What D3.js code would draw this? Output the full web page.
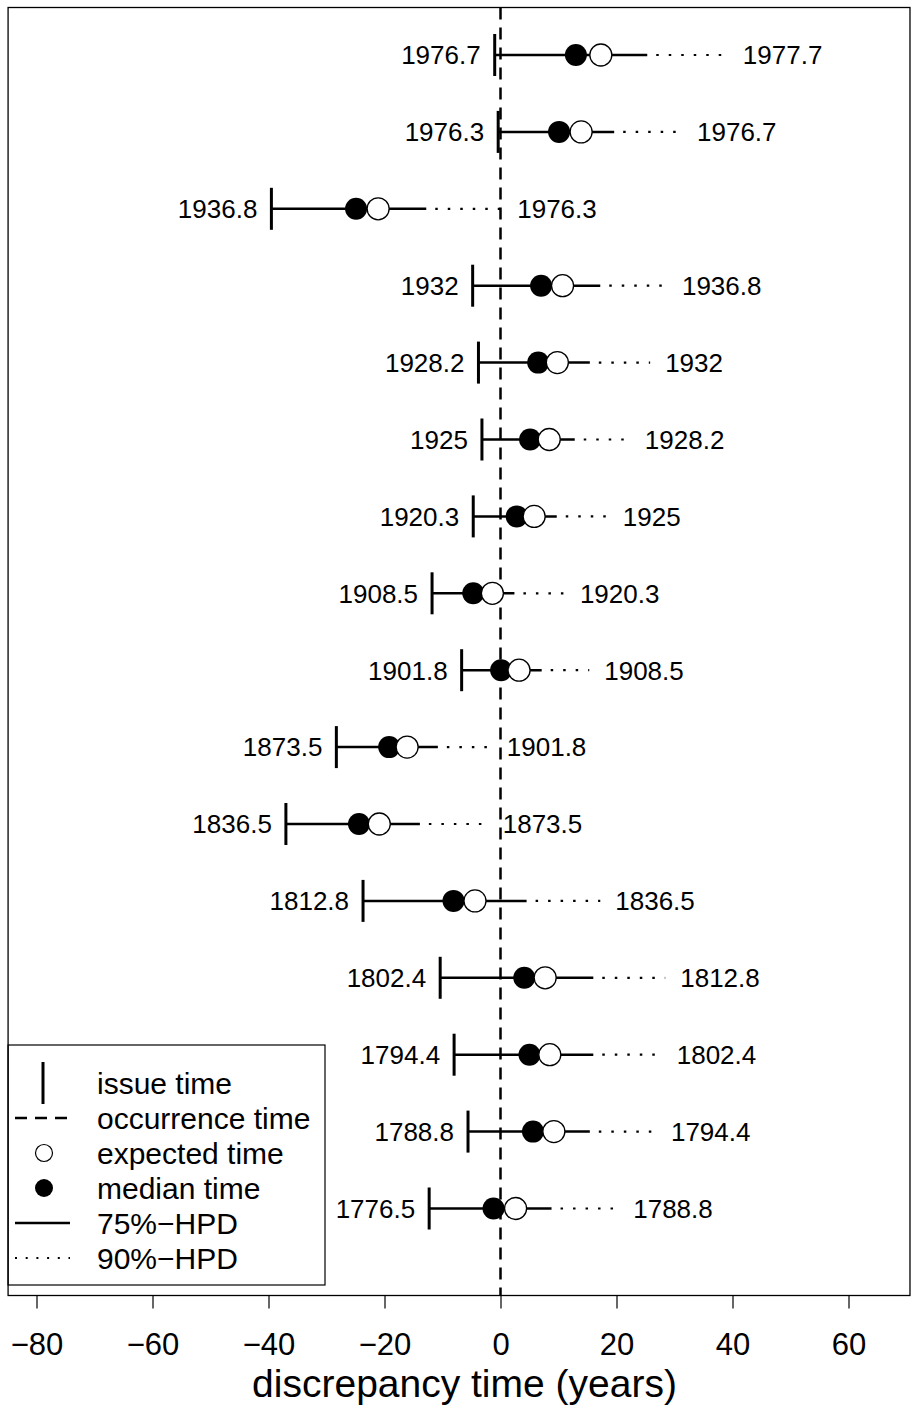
<!DOCTYPE html>
<html>
<head>
<meta charset="utf-8">
<script src="https://cdn.jsdelivr.net/npm/d3@7"></script>
<style>
  html, body { margin: 0; padding: 0; background: #fff; }
  svg { display: block; }
  text { font-family: "Liberation Sans", Arial, Helvetica, sans-serif; fill: #000; }
</style>
</head>
<body>
<svg id="chart" width="911" height="1410"></svg>
<script>
// Forecast intervals, listed from the top row downwards.
const issueYears      = ["1976.7","1976.3","1936.8","1932","1928.2","1925","1920.3","1908.5","1901.8","1873.5","1836.5","1812.8","1802.4","1794.4","1788.8","1776.5"];
const occurrenceYears = ["1977.7","1976.7","1976.3","1936.8","1932","1928.2","1925","1920.3","1908.5","1901.8","1873.5","1836.5","1812.8","1802.4","1794.4","1788.8"];
// Discrepancy times (years, relative to occurrence time)
const issueTime    = [-1.0, -0.4, -39.5, -4.8, -3.8, -3.2, -4.7, -11.8, -6.7, -28.3, -37.0, -23.7, -10.4, -8.0, -5.6, -12.3];
const medianTime   = [13.0, 10.1, -24.9, 7.0, 6.5, 5.1, 2.8, -4.7, 0.1, -19.2, -24.4, -8.1, 4.1, 5.0, 5.6, -1.2];
const expectedTime = [17.3, 13.9, -21.1, 10.7, 9.8, 8.4, 5.8, -1.4, 3.2, -16.1, -20.9, -4.4, 7.7, 8.5, 9.2, 2.6];
const hpd75Upper   = [25.3, 19.6, -12.8, 17.2, 15.4, 12.8, 9.7, 2.4, 7.1, -10.8, -13.9, 4.5, 16.0, 16.0, 15.4, 8.8];
const hpd90Upper   = [39.2, 31.3, 0.3, 28.7, 25.8, 22.3, 18.5, 11.1, 15.3, -1.5, -2.2, 17.2, 28.4, 27.8, 26.8, 20.3];
const xTicks = [-80, -60, -40, -20, 0, 20, 40, 60];
const legendLabels = ["issue time", "occurrence time", "expected time", "median time", "75%\u2212HPD", "90%\u2212HPD"];

const svg = d3.select("#chart");

const x = d3.scaleLinear().domain([-80, 60]).range([36.5, 848.5]);
const y = d3.scaleLinear().domain([0, 15]).range([55, 1208.5]);

const frame = { left: x(-84.9), right: x(70.6), top: 7.5, bottom: 1295.5 };
const rows = d3.range(issueYears.length);

// occurrence-time reference line
svg.append("line")
  .attr("x1", x(0)).attr("x2", x(0))
  .attr("y1", frame.top).attr("y2", frame.bottom)
  .attr("stroke", "#000").attr("stroke-width", 2.5)
  .attr("stroke-dasharray", "12,8");

const g = svg.append("g");

// 90%-HPD dotted extension
g.selectAll(".hpd90").data(rows).join("line")
  .attr("x1", i => x(hpd75Upper[i])).attr("x2", i => x(hpd90Upper[i]))
  .attr("y1", i => y(i)).attr("y2", i => y(i))
  .attr("stroke", "#000").attr("stroke-width", 2.2)
  .attr("stroke-dasharray", "0,9,2.5,1");

// 75%-HPD solid segment from issue time
g.selectAll(".hpd75").data(rows).join("line")
  .attr("x1", i => x(issueTime[i])).attr("x2", i => x(hpd75Upper[i]))
  .attr("y1", i => y(i)).attr("y2", i => y(i))
  .attr("stroke", "#000").attr("stroke-width", 2.5);

// issue-time tick
g.selectAll(".issue").data(rows).join("line")
  .attr("x1", i => x(issueTime[i])).attr("x2", i => x(issueTime[i]))
  .attr("y1", i => y(i) - 21).attr("y2", i => y(i) + 21)
  .attr("stroke", "#000").attr("stroke-width", 3);

// median (filled) then expected (open)
g.selectAll(".median").data(rows).join("circle")
  .attr("cx", i => x(medianTime[i])).attr("cy", i => y(i)).attr("r", 11)
  .attr("fill", "#000");
g.selectAll(".expected").data(rows).join("circle")
  .attr("cx", i => x(expectedTime[i])).attr("cy", i => y(i)).attr("r", 11)
  .attr("fill", "#fff").attr("stroke", "#000").attr("stroke-width", 1.3);

// year labels
g.selectAll(".lab-issue").data(rows).join("text")
  .attr("x", i => x(issueTime[i]) - 14).attr("y", i => y(i))
  .attr("dy", "0.36em").attr("text-anchor", "end")
  .attr("font-size", 26).text(i => issueYears[i]);
g.selectAll(".lab-occ").data(rows).join("text")
  .attr("x", i => x(hpd90Upper[i]) + 15).attr("y", i => y(i))
  .attr("dy", "0.36em").attr("text-anchor", "start")
  .attr("font-size", 26).text(i => occurrenceYears[i]);

// legend
const leg = svg.append("g");
const legTop = 1045, legBottom = 1285, legRight = 325;
leg.append("rect")
  .attr("x", frame.left).attr("y", legTop)
  .attr("width", legRight - frame.left).attr("height", legBottom - legTop)
  .attr("fill", "#fff").attr("stroke", "#000").attr("stroke-width", 1.2);
const ly = d3.scaleLinear().domain([0, 5]).range([1083, 1258]);
leg.selectAll("text").data(legendLabels).join("text")
  .attr("x", 97).attr("y", (d, i) => ly(i)).attr("dy", "0.36em")
  .attr("font-size", 30).text(d => d);
leg.append("line").attr("x1", 43).attr("x2", 43)
  .attr("y1", ly(0) - 21).attr("y2", ly(0) + 21)
  .attr("stroke", "#000").attr("stroke-width", 3);
leg.append("line").attr("x1", 15).attr("x2", 68)
  .attr("y1", ly(1)).attr("y2", ly(1))
  .attr("stroke", "#000").attr("stroke-width", 2.5).attr("stroke-dasharray", "12,8");
leg.append("circle").attr("cx", 44).attr("cy", ly(2)).attr("r", 8.5)
  .attr("fill", "#fff").attr("stroke", "#000").attr("stroke-width", 1.2);
leg.append("circle").attr("cx", 44).attr("cy", ly(3)).attr("r", 9)
  .attr("fill", "#000");
leg.append("line").attr("x1", 15).attr("x2", 70)
  .attr("y1", ly(4)).attr("y2", ly(4))
  .attr("stroke", "#000").attr("stroke-width", 2.5);
leg.append("line").attr("x1", 15).attr("x2", 70)
  .attr("y1", ly(5)).attr("y2", ly(5))
  .attr("stroke", "#000").attr("stroke-width", 2)
  .attr("stroke-dasharray", "2,8.7");

// plot frame
svg.append("rect")
  .attr("x", frame.left).attr("y", frame.top)
  .attr("width", frame.right - frame.left).attr("height", frame.bottom - frame.top)
  .attr("fill", "none").attr("stroke", "#000").attr("stroke-width", 1.3);

// x axis
const axis = svg.append("g").attr("transform", `translate(0,${frame.bottom})`)
  .call(d3.axisBottom(x).tickValues(xTicks).tickSize(13).tickPadding(36)
        .tickFormat(d => d < 0 ? "\u2212" + Math.abs(d) : String(d)));
axis.select(".domain").remove();
axis.selectAll(".tick line").attr("stroke", "#000").attr("stroke-width", 1.2);
axis.selectAll(".tick text")
  .attr("font-family", "'Liberation Sans', Arial, sans-serif")
  .attr("font-size", 31).attr("fill", "#000").attr("dy", "0").attr("y", 59.5);

svg.append("text")
  .attr("x", x(0) - 36).attr("y", 1397)
  .attr("text-anchor", "middle").attr("font-size", 39)
  .text("discrepancy time (years)");
</script>
</body>
</html>
